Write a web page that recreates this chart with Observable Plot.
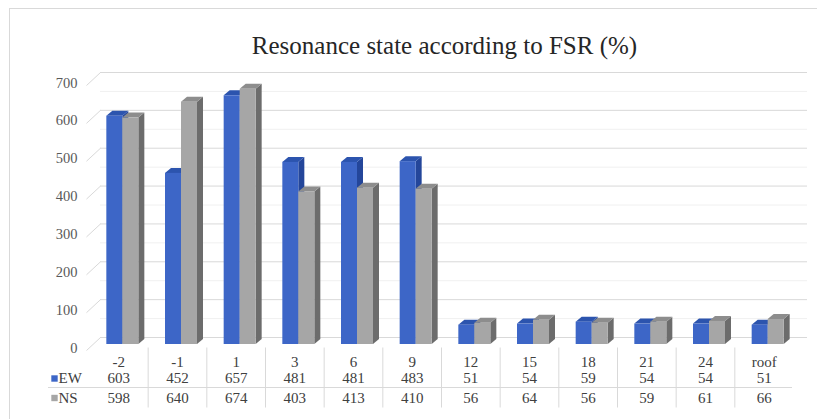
<!DOCTYPE html>
<html>
<head>
<meta charset="utf-8">
<script src="https://cdn.jsdelivr.net/npm/d3@7"></script>
<script src="https://cdn.jsdelivr.net/npm/@observablehq/plot@0.6"></script>
<style>
  html, body { margin: 0; padding: 0; background: #fff; }
  #wrap { position: relative; width: 817px; height: 419px; overflow: hidden; }
  #border { position: absolute; left: 9px; top: 8px; width: 820px; height: 420px;
            border: 1px solid #d9d9d9; pointer-events: none; }
  svg { display: block; }
</style>
</head>
<body>
<div id="wrap"><div id="border"></div></div>
<script>
// Floors and their values
const categories = ["-2", "-1", "1", "3", "6", "9", "12", "15", "18", "21", "24", "roof"];
const ewValues = [603, 452, 657, 481, 481, 483, 51, 54, 59, 54, 54, 51];
const nsValues = [598, 640, 674, 403, 413, 410, 56, 64, 56, 59, 61, 66];
const seriesNames = ["EW", "NS"];
const yTicks = [0, 100, 200, 300, 400, 500, 600, 700];
const yMinor = [50, 150, 250, 350, 450, 550, 650];
const title = "Resonance state according to FSR (%)";

// Layout
const W = 817, H = 419;
const mL = 89, mR = 24, mT = 79, mB = 75;
const kx = (W - mL - mR) / categories.length; // px per category
const ky = (H - mT - mB) / 700;               // px per unit
const px = p => p / kx;                        // horizontal px -> x units
const py = p => p / ky;                        // vertical px (upwards) -> y units

const palette = {
  EW: {front: "#3d66c7", top: "#2c54ae", side: "#24469a"},
  NS: {front: "#a6a6a6", top: "#8d8d8d", side: "#6c6c6c"}
};

// 3D column geometry
const barW = 16, depthX = 6, depthY = 5;
const seriesValues = [ewValues, nsValues];
const bars = [];
seriesNames.forEach((s, si) => {
  categories.forEach((c, i) => {
    const x0 = i + 0.5 + px(-12 + barW * si);
    bars.push({id: s + c, series: s, x0, x1: x0 + px(barW), v: seriesValues[si][i]});
  });
});
const tops = bars.flatMap(b => [
  {id: b.id, series: b.series, y: b.v, a: b.x0, b: b.x1},
  {id: b.id, series: b.series, y: b.v + py(depthY), a: b.x0 + px(depthX), b: b.x1 + px(depthX)}
]);
const sides = bars.flatMap(b => [
  {id: b.id, series: b.series, x: b.x1, lo: 0, hi: b.v},
  {id: b.id, series: b.series, x: b.x1 + px(depthX), lo: py(depthY), hi: b.v + py(depthY)}
]);

function barMarks(s) {
  const P = palette[s];
  return [
    Plot.areaY(sides.filter(d => d.series === s), {x: "x", y1: "lo", y2: "hi", z: "id", fill: P.side}),
    Plot.areaX(tops.filter(d => d.series === s), {y: "y", x1: "a", x2: "b", z: "id", fill: P.top}),
    Plot.rectY(bars.filter(d => d.series === s), {x1: "x0", x2: "x1", y1: 0, y2: "v", fill: P.front})
  ];
}

// Data table under the columns (rows placed below the zero line)
const tableFont = 15;
const rowY = {cat: -py(18), EW: -py(34), NS: -py(53.5)};
const colIdx = categories.map((c, i) => i);
const cellText = {fontSize: tableFont, fill: "#404040", lineAnchor: "middle"};
const tableMarks = [
  Plot.ruleX(d3.range(1, categories.length), {x: d => d, y1: -py(3.5), y2: -py(63.5), stroke: "#d9d9d9"}),
  Plot.ruleY([-py(43)], {x1: px(48 - mL), x2: px(792 - mL), stroke: "#d9d9d9"}),
  Plot.text(colIdx, {x: i => i + 0.5, y: rowY.cat, text: i => categories[i], ...cellText}),
  Plot.text(colIdx, {x: i => i + 0.5, y: rowY.EW, text: i => String(ewValues[i]), ...cellText}),
  Plot.text(colIdx, {x: i => i + 0.5, y: rowY.NS, text: i => String(nsValues[i]), ...cellText}),
  Plot.dot(seriesNames, {x: px(54 - mL), y: s => rowY[s], symbol: "square", r: 3.6,
                         fill: s => palette[s].front, stroke: "none"}),
  Plot.text(seriesNames, {x: px(58 - mL), y: s => rowY[s], text: s => s, textAnchor: "start", ...cellText})
];

const chart = Plot.plot({
  width: W,
  height: H,
  marginLeft: mL,
  marginRight: mR,
  marginTop: mT,
  marginBottom: mB,
  style: {fontFamily: "'Liberation Serif', 'Times New Roman', serif", background: "transparent"},
  x: {domain: [0, categories.length], axis: null},
  y: {domain: [0, 700], axis: null},
  marks: [
    // back-wall and side-wall gridlines
    Plot.ruleY(yMinor, {y: d => d + py(7), x1: px(100 - mL), x2: px(807 - mL), stroke: "#f0f0f0"}),
    Plot.ruleY(yTicks, {y: d => d + py(7), x1: px(100 - mL), x2: px(807 - mL), stroke: "#d9d9d9"}),
    Plot.link(yTicks, {x1: px(86 - mL), y1: d => d - py(6), x2: px(100 - mL), y2: d => d + py(7),
                       stroke: "#d9d9d9"}),
    Plot.text(yTicks, {x: px(77 - mL), y: d => d, dy: 3.5, text: d => String(d), textAnchor: "end",
                       fontSize: 14.5, fill: "#595959"}),
    ...barMarks("EW"),
    ...barMarks("NS"),
    ...tableMarks,
    Plot.text([title], {frameAnchor: "top", dx: 3, dy: -34, text: d => d, fontSize: 25,
                        fill: "#262626", lineAnchor: "middle"})
  ]
});
document.getElementById("wrap").prepend(chart);
</script>
</body>
</html>
